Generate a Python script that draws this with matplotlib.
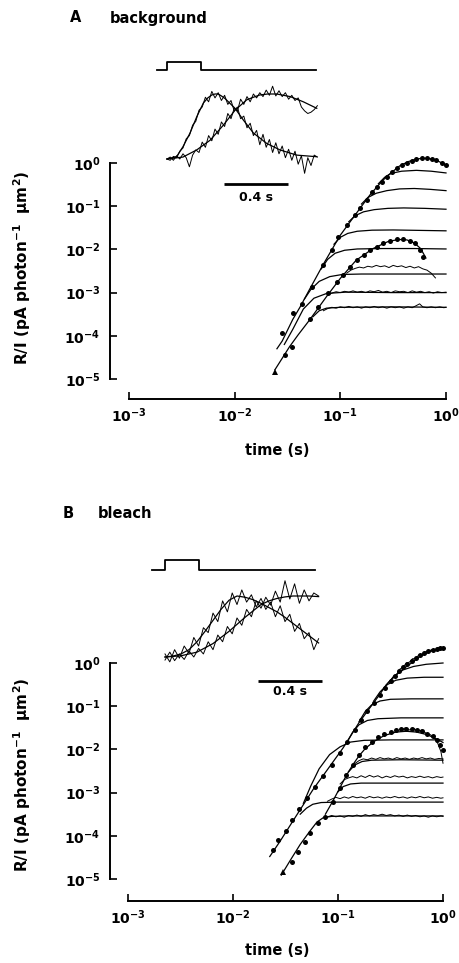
import numpy as np
import matplotlib
matplotlib.use("Agg")
import matplotlib.pyplot as plt
from matplotlib.ticker import FixedLocator, FixedFormatter, NullLocator

W, H, DPI = 460, 963, 100
PT = 72 / DPI  # points per pixel

plt.rcParams["font.family"] = ["DejaVu Sans"]
plt.rcParams["mathtext.fontset"] = "dejavusans"

# ---------------- main panels: (log10 time [s], log10 R/I) ----------------
X_TICKS = [1e-3, 1e-2, 1e-1, 1e0]
X_LABELS = [r"$\mathbf{10^{-3}}$", r"$\mathbf{10^{-2}}$", r"$\mathbf{10^{-1}}$", r"$\mathbf{10^{0}}$"]
Y_TICKS = [1e-5, 1e-4, 1e-3, 1e-2, 1e-1, 1e0]
Y_LABELS = [r"$\mathbf{10^{-5}}$", r"$\mathbf{10^{-4}}$", r"$\mathbf{10^{-3}}$",
            r"$\mathbf{10^{-2}}$", r"$\mathbf{10^{-1}}$", r"$\mathbf{10^{0}}$"]

# panel A (background)
A_env_up = [(-1.60, -4.30), (-1.55, -4.12), (-1.51, -3.92), (-1.45, -3.62), (-1.38, -3.33),
            (-1.29, -2.92), (-1.16, -2.34), (-1.00, -1.67), (-0.85, -1.17), (-0.72, -0.74),
            (-0.62, -0.46), (-0.56, -0.31), (-0.50, -0.19), (-0.44, -0.07), (-0.36, 0.03),
            (-0.28, 0.09), (-0.22, 0.11), (-0.15, 0.10), (-0.08, 0.05), (0.00, -0.05)]
A_dots_up = [(-1.555, -3.94), (-1.446, -3.48), (-1.366, -3.26), (-1.272, -2.86), (-1.162, -2.36),
             (-1.082, -2.01), (-1.02, -1.72), (-0.94, -1.44), (-0.862, -1.20), (-0.815, -1.05),
             (-0.75, -0.86), (-0.70, -0.66), (-0.657, -0.55), (-0.61, -0.43), (-0.562, -0.32),
             (-0.515, -0.20), (-0.467, -0.12), (-0.42, -0.05), (-0.373, 0.01), (-0.325, 0.05),
             (-0.28, 0.085), (-0.23, 0.11), (-0.18, 0.11), (-0.136, 0.09), (-0.09, 0.07),
             (-0.04, 0.01), (0.0, -0.05)]
A_c1 = [(-0.64, -0.48), (-0.58, -0.33), (-0.52, -0.24), (-0.42, -0.19), (-0.28, -0.17),
        (-0.14, -0.19), (0.0, -0.23)]
A_c2 = [(-0.80, -0.95), (-0.74, -0.80), (-0.66, -0.70), (-0.56, -0.64), (-0.44, -0.60),
        (-0.30, -0.59), (-0.15, -0.61), (0.0, -0.64)]
A_c3 = [(-0.92, -1.36), (-0.86, -1.22), (-0.78, -1.13), (-0.68, -1.08), (-0.55, -1.05),
        (-0.40, -1.04), (-0.20, -1.05), (0.0, -1.07)]
A_c4 = [(-1.06, -1.88), (-1.00, -1.72), (-0.93, -1.63), (-0.84, -1.58), (-0.70, -1.555),
        (-0.50, -1.55), (-0.25, -1.56), (0.0, -1.57)]
A_c5 = [(-1.18, -2.45), (-1.12, -2.23), (-1.05, -2.09), (-0.96, -2.02), (-0.84, -1.99),
        (-0.60, -1.98), (-0.30, -1.98), (0.0, -1.99)]
A_c6 = [(-1.34, -3.15), (-1.28, -2.93), (-1.20, -2.74), (-1.10, -2.63), (-0.98, -2.58),
        (-0.80, -2.57), (-0.40, -2.57), (0.0, -2.57)]
A_c7 = [(-1.53, -4.20), (-1.45, -3.85), (-1.35, -3.38), (-1.25, -3.13), (-1.13, -3.02),
        (-0.95, -2.99), (-0.50, -3.00), (0.0, -3.00)]
A_c8 = [(-1.26, -3.56), (-1.20, -3.42), (-1.13, -3.36), (-1.00, -3.34), (-0.50, -3.33),
        (0.0, -3.34)]
A_env_lo = [(-1.62, -4.79), (-1.55, -4.52), (-1.48, -4.25), (-1.40, -3.98), (-1.29, -3.63),
            (-1.13, -3.09), (-1.00, -2.67), (-0.85, -2.25), (-0.69, -1.98), (-0.55, -1.82),
            (-0.45, -1.77), (-0.37, -1.78), (-0.30, -1.85), (-0.24, -1.98), (-0.19, -2.20)]
A_dots_lo = [(-1.524, -4.44), (-1.46, -4.25), (-1.288, -3.62), (-1.209, -3.33), (-1.115, -3.02),
             (-1.035, -2.75), (-0.972, -2.59), (-0.909, -2.40), (-0.846, -2.25), (-0.78, -2.13),
             (-0.72, -2.01), (-0.657, -1.94), (-0.594, -1.86), (-0.53, -1.80), (-0.467, -1.77),
             (-0.405, -1.77), (-0.342, -1.80), (-0.294, -1.86), (-0.247, -2.01), (-0.216, -2.17)]
A_tri = [(-1.62, -4.84)]
A_n6 = [(-0.94, -2.55), (-0.90, -2.48), (-0.86, -2.44), (-0.82, -2.41), (-0.78, -2.43),
        (-0.74, -2.39), (-0.70, -2.41), (-0.66, -2.37), (-0.62, -2.40), (-0.58, -2.38),
        (-0.54, -2.42), (-0.50, -2.37), (-0.46, -2.40), (-0.42, -2.38), (-0.38, -2.42),
        (-0.34, -2.39), (-0.30, -2.43), (-0.26, -2.40), (-0.22, -2.45), (-0.18, -2.48),
        (-0.14, -2.55), (-0.10, -2.66)]
A_n7 = [(-1.12, -3.06), (-1.08, -3.01), (-1.04, -2.98), (-1.00, -3.00), (-0.96, -2.97),
        (-0.92, -2.99), (-0.88, -2.96), (-0.84, -2.99), (-0.80, -2.97), (-0.76, -3.00),
        (-0.72, -2.96), (-0.68, -2.98), (-0.64, -2.95), (-0.60, -2.99), (-0.56, -2.97),
        (-0.52, -3.00), (-0.48, -2.96), (-0.44, -2.98), (-0.40, -2.97), (-0.36, -3.00),
        (-0.32, -2.96), (-0.28, -2.99), (-0.24, -2.97), (-0.20, -3.00), (-0.16, -2.98),
        (-0.12, -3.01), (-0.08, -2.98), (-0.04, -3.00), (0.00, -2.99)]
A_n8 = [(-1.16, -3.42), (-1.12, -3.37), (-1.08, -3.34), (-1.04, -3.36), (-1.00, -3.33),
        (-0.96, -3.35), (-0.92, -3.32), (-0.88, -3.35), (-0.84, -3.33), (-0.80, -3.36),
        (-0.76, -3.33), (-0.72, -3.35), (-0.68, -3.32), (-0.64, -3.35), (-0.60, -3.33),
        (-0.56, -3.36), (-0.52, -3.33), (-0.48, -3.35), (-0.44, -3.33), (-0.40, -3.36),
        (-0.36, -3.33), (-0.32, -3.35), (-0.28, -3.30), (-0.25, -3.26), (-0.22, -3.33),
        (-0.18, -3.35), (-0.14, -3.33), (-0.10, -3.35), (-0.06, -3.33), (-0.02, -3.35),
        (0.00, -3.34)]

# panel B (bleach)
B_env_up = [(-1.65, -4.48), (-1.55, -4.12), (-1.43, -3.66), (-1.33, -3.28), (-1.23, -2.90),
            (-1.11, -2.50), (-0.95, -1.96), (-0.80, -1.38), (-0.70, -1.05), (-0.60, -0.72),
            (-0.54, -0.50), (-0.45, -0.28), (-0.38, -0.14), (-0.30, 0.00), (-0.22, 0.15),
            (-0.12, 0.27), (0.00, 0.34)]
B_dots_up = [(-1.62, -4.33), (-1.57, -4.10), (-1.50, -3.90), (-1.44, -3.63), (-1.37, -3.38),
             (-1.30, -3.12), (-1.22, -2.88), (-1.14, -2.62), (-1.06, -2.36), (-0.98, -2.08),
             (-0.91, -1.82), (-0.84, -1.55), (-0.78, -1.33), (-0.72, -1.12), (-0.66, -0.92),
             (-0.60, -0.75), (-0.55, -0.58), (-0.50, -0.42), (-0.46, -0.30), (-0.42, -0.18),
             (-0.38, -0.10), (-0.34, -0.02), (-0.30, 0.05), (-0.26, 0.12), (-0.22, 0.18),
             (-0.18, 0.22), (-0.14, 0.27), (-0.10, 0.30), (-0.06, 0.33), (-0.03, 0.34),
             (0.00, 0.35)]
B_n_up = [(-0.50, -0.40), (-0.47, -0.30), (-0.44, -0.26), (-0.41, -0.14), (-0.38, -0.10),
          (-0.35, 0.00), (-0.32, 0.02), (-0.29, 0.10), (-0.26, 0.10), (-0.23, 0.19),
          (-0.20, 0.18), (-0.17, 0.26), (-0.14, 0.25), (-0.11, 0.31), (-0.08, 0.29),
          (-0.05, 0.36), (-0.02, 0.32), (0.00, 0.35)]
B_c1 = [(-0.52, -0.45), (-0.45, -0.28), (-0.38, -0.16), (-0.28, -0.08), (-0.16, -0.03), (0.0, 0.0)]
B_c2 = [(-0.66, -0.88), (-0.60, -0.67), (-0.53, -0.50), (-0.45, -0.40), (-0.34, -0.35),
        (-0.18, -0.33), (0.0, -0.33)]
B_c3 = [(-0.80, -1.36), (-0.74, -1.12), (-0.68, -0.97), (-0.60, -0.88), (-0.50, -0.84),
        (-0.30, -0.83), (0.0, -0.83)]
B_c4 = [(-0.92, -1.86), (-0.86, -1.60), (-0.80, -1.43), (-0.72, -1.33), (-0.62, -1.29),
        (-0.40, -1.27), (0.0, -1.27)]
B_c5 = [(-1.33, -3.25), (-1.26, -2.85), (-1.18, -2.45), (-1.08, -2.12), (-0.98, -1.94),
        (-0.88, -1.83), (-0.75, -1.79), (-0.50, -1.78), (0.0, -1.78)]
B_env_lo = [(-1.12, -3.50), (-1.05, -3.20), (-0.98, -2.88), (-0.92, -2.60), (-0.86, -2.36),
            (-0.80, -2.15), (-0.74, -1.98), (-0.66, -1.82), (-0.56, -1.68), (-0.45, -1.60),
            (-0.35, -1.58), (-0.25, -1.60), (-0.15, -1.66), (-0.06, -1.76), (0.0, -1.84)]
B_dots_lo = [(-1.44, -4.60), (-1.38, -4.37), (-1.31, -4.14), (-1.27, -3.94), (-1.19, -3.71),
             (-1.12, -3.56), (-1.05, -3.22), (-0.98, -2.90), (-0.92, -2.60), (-0.86, -2.35),
             (-0.80, -2.12), (-0.74, -1.95), (-0.68, -1.82), (-0.62, -1.72), (-0.56, -1.64),
             (-0.50, -1.60), (-0.45, -1.56), (-0.40, -1.53), (-0.35, -1.52), (-0.30, -1.53),
             (-0.25, -1.55), (-0.20, -1.58), (-0.15, -1.64), (-0.10, -1.70), (-0.06, -1.78),
             (-0.03, -1.90), (0.00, -2.02)]
B_n_lo = [(-0.40, -1.56), (-0.36, -1.50), (-0.32, -1.55), (-0.28, -1.51), (-0.24, -1.58),
          (-0.20, -1.55), (-0.16, -1.63), (-0.12, -1.66), (-0.08, -1.75), (-0.05, -1.86),
          (-0.02, -2.05), (0.00, -2.32)]
B_tri = [(-1.52, -4.83)]
B_L1 = [(-0.90, -2.52), (-0.84, -2.36), (-0.77, -2.28), (-0.68, -2.25), (-0.40, -2.24), (0.0, -2.25)]
B_L1n = [(-0.84, -2.33), (-0.80, -2.26), (-0.76, -2.22), (-0.72, -2.24), (-0.68, -2.20),
         (-0.64, -2.23), (-0.60, -2.19), (-0.56, -2.22), (-0.52, -2.20), (-0.48, -2.23),
         (-0.44, -2.19), (-0.40, -2.22), (-0.36, -2.20), (-0.32, -2.23), (-0.28, -2.20),
         (-0.24, -2.22), (-0.20, -2.19), (-0.16, -2.22), (-0.12, -2.20), (-0.08, -2.23),
         (-0.04, -2.21), (0.00, -2.22)]
B_L2 = [(-1.00, -2.98), (-0.95, -2.86), (-0.88, -2.80), (-0.78, -2.78), (0.0, -2.78)]
B_L2n = [(-0.98, -2.80), (-0.94, -2.70), (-0.90, -2.66), (-0.86, -2.63), (-0.82, -2.66),
         (-0.78, -2.61), (-0.74, -2.65), (-0.70, -2.60), (-0.66, -2.64), (-0.62, -2.61),
         (-0.58, -2.66), (-0.54, -2.62), (-0.50, -2.65), (-0.46, -2.61), (-0.42, -2.64),
         (-0.38, -2.62), (-0.34, -2.66), (-0.30, -2.63), (-0.26, -2.65), (-0.22, -2.62),
         (-0.18, -2.65), (-0.14, -2.63), (-0.10, -2.66), (-0.06, -2.63), (-0.02, -2.65),
         (0.00, -2.64)]
B_L3 = [(-1.36, -3.50), (-1.30, -3.36), (-1.24, -3.27), (-1.16, -3.23), (-1.00, -3.22),
        (-0.50, -3.22), (0.0, -3.22)]
B_L3n = [(-1.10, -3.20), (-1.06, -3.15), (-1.02, -3.11), (-0.98, -3.14), (-0.94, -3.10),
         (-0.90, -3.13), (-0.86, -3.09), (-0.82, -3.12), (-0.78, -3.10), (-0.74, -3.13),
         (-0.70, -3.09), (-0.66, -3.12), (-0.62, -3.10), (-0.58, -3.13), (-0.54, -3.10),
         (-0.50, -3.12), (-0.46, -3.09), (-0.42, -3.12), (-0.38, -3.10), (-0.34, -3.13),
         (-0.30, -3.10), (-0.26, -3.12), (-0.22, -3.09), (-0.18, -3.12), (-0.14, -3.10),
         (-0.10, -3.13), (-0.06, -3.11), (-0.02, -3.13), (0.00, -3.12)]
B_L4 = [(-1.54, -4.91), (-1.45, -4.55), (-1.36, -4.20), (-1.27, -3.90), (-1.20, -3.68),
        (-1.14, -3.58), (-1.06, -3.55), (-0.90, -3.54), (0.0, -3.54)]
B_L4n = [(-1.10, -3.56), (-1.06, -3.53), (-1.02, -3.56), (-0.98, -3.54), (-0.94, -3.57),
         (-0.90, -3.53), (-0.86, -3.55), (-0.82, -3.52), (-0.78, -3.55), (-0.74, -3.51),
         (-0.70, -3.54), (-0.66, -3.51), (-0.62, -3.53), (-0.58, -3.50), (-0.54, -3.53),
         (-0.50, -3.51), (-0.46, -3.54), (-0.42, -3.52), (-0.38, -3.55), (-0.34, -3.52),
         (-0.30, -3.55), (-0.26, -3.53), (-0.22, -3.56), (-0.18, -3.54), (-0.14, -3.57),
         (-0.10, -3.54), (-0.06, -3.56), (-0.02, -3.54), (0.00, -3.55)]

# ---------------- insets: time [s] after light onset, normalised response ----------------
A_stim_t = [-0.06, 0.0, 0.0, 0.21, 0.21, 0.93]
A_stim_a = [1.37, 1.37, 1.49, 1.49, 1.37, 1.37]
A_fast_fit = [(0.0, 0.0), (0.06, 0.035), (0.10, 0.19), (0.144, 0.40), (0.186, 0.65), (0.227, 0.86),
              (0.255, 0.94), (0.28, 0.985), (0.30, 1.0), (0.32, 1.0), (0.34, 0.97), (0.363, 0.93),
              (0.425, 0.78), (0.477, 0.60), (0.54, 0.40), (0.623, 0.24), (0.706, 0.14),
              (0.81, 0.06), (0.936, 0.035)]
A_slow_fit = [(0.0, 0.0), (0.10, 0.03), (0.186, 0.14), (0.27, 0.29), (0.352, 0.52), (0.425, 0.75),
              (0.498, 0.91), (0.54, 0.95), (0.58, 0.985), (0.63, 1.0), (0.686, 1.0), (0.77, 0.96),
              (0.852, 0.88), (0.936, 0.78)]
A_fast_noisy = [0.00, -0.02, 0.04, 0.02, 0.12, 0.17, 0.31, 0.36, 0.52, 0.58, 0.75, 0.80, 0.95, 0.88,
                1.04, 0.94, 1.02, 0.90, 0.98, 0.84, 0.90, 0.74, 0.80, 0.62, 0.66, 0.48, 0.55, 0.36,
                0.44, 0.22, 0.38, 0.18, 0.30, 0.10, 0.25, 0.08, 0.20, 0.02, 0.15, -0.02, 0.12,
                -0.08, 0.05, -0.22, 0.02, -0.10, 0.06, 0.03]
A_slow_noisy = [0.00, 0.03, -0.02, 0.05, 0.00, 0.08, 0.02, -0.12, 0.06, 0.14, 0.10, 0.26, 0.18,
                0.36, 0.28, 0.46, 0.38, 0.57, 0.50, 0.70, 0.62, 0.78, 0.74, 0.92, 0.84, 0.96,
                0.88, 1.00, 0.94, 1.02, 0.96, 1.06, 0.98, 1.12, 0.97, 1.05, 0.96, 1.02, 0.92,
                0.98, 0.90, 0.94, 0.80, 0.74, 0.70, 0.72, 0.76, 0.82]
A_noisy_t = [0.00, 0.02, 0.04, 0.06, 0.08, 0.10, 0.12, 0.14, 0.16, 0.18, 0.20, 0.22, 0.24, 0.26,
             0.28, 0.30, 0.32, 0.34, 0.36, 0.38, 0.40, 0.42, 0.44, 0.46, 0.48, 0.50, 0.52, 0.54,
             0.56, 0.58, 0.60, 0.62, 0.64, 0.66, 0.68, 0.70, 0.72, 0.74, 0.76, 0.78, 0.80, 0.82,
             0.84, 0.86, 0.88, 0.90, 0.92, 0.94]

B_stim_t = [-0.08, 0.0, 0.0, 0.21, 0.21, 0.94]
B_stim_a = [1.43, 1.43, 1.59, 1.59, 1.43, 1.43]
B_fast_fit = [(0.0, 0.0), (0.05, 0.015), (0.10, 0.05), (0.15, 0.12), (0.20, 0.25), (0.25, 0.42),
              (0.30, 0.60), (0.35, 0.78), (0.40, 0.93), (0.45, 1.0), (0.50, 0.98), (0.55, 0.94),
              (0.60, 0.88), (0.65, 0.81), (0.70, 0.74), (0.75, 0.65), (0.80, 0.55), (0.85, 0.45),
              (0.90, 0.35), (0.96, 0.23)]
B_slow_fit = [(0.0, 0.0), (0.10, 0.02), (0.20, 0.08), (0.30, 0.22), (0.40, 0.42), (0.50, 0.65),
              (0.60, 0.86), (0.65, 0.92), (0.70, 0.96), (0.75, 0.985), (0.80, 1.0), (0.90, 1.0),
              (0.96, 0.99)]
B_noisy_t = [0.00, 0.03, 0.06, 0.09, 0.12, 0.15, 0.18, 0.21, 0.24, 0.27, 0.30, 0.33, 0.36, 0.39,
             0.42, 0.45, 0.48, 0.51, 0.54, 0.57, 0.60, 0.63, 0.66, 0.69, 0.72, 0.75, 0.78, 0.81,
             0.84, 0.87, 0.90, 0.93, 0.96]
B_fast_noisy = [0.05, -0.08, 0.12, -0.02, 0.18, 0.06, 0.32, 0.18, 0.48, 0.40, 0.72, 0.58, 0.92,
                0.74, 1.05, 0.86, 1.10, 0.90, 1.02, 0.82, 0.96, 0.78, 0.90, 0.66, 0.84, 0.58,
                0.70, 0.42, 0.55, 0.30, 0.40, 0.12, 0.30]
B_slow_noisy = [-0.05, 0.08, -0.06, 0.05, -0.04, 0.10, 0.00, 0.14, 0.05, 0.25, 0.12, 0.36, 0.25,
                0.50, 0.38, 0.64, 0.52, 0.78, 0.66, 0.92, 0.80, 0.98, 0.85, 1.08, 0.90, 1.25,
                0.95, 1.20, 0.88, 1.10, 0.92, 1.05, 1.00]

fig = plt.figure(figsize=(W / DPI, H / DPI), dpi=DPI)


def px_axes(left, top, right, bottom):
    return fig.add_axes([left / W, 1 - bottom / H, (right - left) / W, (bottom - top) / H])


def line(ax, pts, lw=0.9):
    t, r = np.array(pts).T
    ax.plot(10 ** t, 10 ** r, color="k", lw=lw, clip_on=False, solid_joinstyle="round")


def marks(ax, pts, marker="o", ms=3.6):
    t, r = np.array(pts).T
    ax.plot(10 ** t, 10 ** r, marker, color="k", ms=ms, mew=0, clip_on=False)


def main_panel(box, off_left, off_bottom):
    ax = px_axes(*box)
    ax.set_xscale("log")
    ax.set_yscale("log")
    ax.set_xlim(1e-3, 1)
    ax.set_ylim(1e-5, 1)
    ax.patch.set_visible(False)
    for s in ("top", "right"):
        ax.spines[s].set_visible(False)
    ax.spines["left"].set_position(("outward", off_left * PT))
    ax.spines["bottom"].set_position(("outward", off_bottom * PT))
    for s in ("left", "bottom"):
        ax.spines[s].set_linewidth(1.4)
    ax.xaxis.set_major_locator(FixedLocator(X_TICKS))
    ax.xaxis.set_major_formatter(FixedFormatter(X_LABELS))
    ax.yaxis.set_major_locator(FixedLocator(Y_TICKS))
    ax.yaxis.set_major_formatter(FixedFormatter(Y_LABELS))
    ax.xaxis.set_minor_locator(NullLocator())
    ax.yaxis.set_minor_locator(NullLocator())
    ax.tick_params(direction="in", length=5, width=1.2, labelsize=10)
    ax.tick_params(axis="x", pad=5)
    ax.tick_params(axis="y", pad=7)
    return ax


def inset(box, t0_px, base_px, px_per_s, px_per_unit):
    left, top, right, bottom = box
    ax = px_axes(*box)
    ax.set_xlim((left - t0_px) / px_per_s, (right - t0_px) / px_per_s)
    ax.set_ylim((base_px - bottom) / px_per_unit, (base_px - top) / px_per_unit)
    ax.axis("off")
    return ax


def draw_inset(ax, stim_t, stim_a, fits, noisy_t, noisies, bar, bar_y, lab_y):
    ax.plot(stim_t, stim_a, color="k", lw=1.3)
    for pts in fits:
        t, a = np.array(pts).T
        ax.plot(t, a, color="k", lw=0.9)
    for vals in noisies:
        ax.plot(noisy_t, vals, color="k", lw=0.7)
    ax.plot(bar, [bar_y, bar_y], color="k", lw=2.0, solid_capstyle="butt")
    ax.text(sum(bar) / 2, lab_y, "0.4 s", ha="center", va="center", fontsize=9,
            fontweight="bold")


# ---------- panel A ----------
axA = main_panel((129, 163, 446, 379), 19, 20)
for c in (A_env_up, A_c1, A_c2, A_c3, A_c4, A_c5, A_c6, A_c7, A_c8, A_env_lo):
    line(axA, c)
for c in (A_n6, A_n7, A_n8):
    line(axA, c, lw=0.7)
marks(axA, A_dots_up)
marks(axA, A_dots_lo)
marks(axA, A_tri, marker="^", ms=4)

insA = inset((150, 55, 330, 205), 167, 159, 160, 65)
draw_inset(insA, A_stim_t, A_stim_a, (A_fast_fit, A_slow_fit), A_noisy_t,
           (A_fast_noisy, A_slow_noisy), (0.356, 0.756), -0.385, -0.585)

# ---------- panel B ----------
axB = main_panel((128, 663, 443, 879), 18, 22)
for c in (B_env_up, B_c1, B_c2, B_c3, B_c4, B_c5, B_env_lo, B_L1, B_L2, B_L3, B_L4):
    line(axB, c)
for c in (B_n_up, B_n_lo, B_L1n, B_L2n, B_L3n, B_L4n):
    line(axB, c, lw=0.7)
marks(axB, B_dots_up)
marks(axB, B_dots_lo)
marks(axB, B_tri, marker="^", ms=4)

insB = inset((145, 550, 330, 705), 165, 657, 160, 61)
draw_inset(insB, B_stim_t, B_stim_a, (B_fast_fit, B_slow_fit), B_noisy_t,
           (B_fast_noisy, B_slow_noisy), (0.581, 0.981), -0.39, -0.57)

# ---------- labels ----------
ylab = "R/I (pA photon$^{\\mathbf{-1}}$  \u03bcm$^{\\mathbf{2}}$)"
for yc in (268, 775):
    fig.text(22 / W, 1 - yc / H, ylab, rotation=90, ha="center", va="center",
             fontsize=11, fontweight="bold")
for yc in (450, 950):
    fig.text(277 / W, 1 - yc / H, "time (s)", ha="center", va="center",
             fontsize=10.5, fontweight="bold")
fig.text(70 / W, 1 - 18 / H, "A", ha="left", va="center", fontsize=10.5, fontweight="bold")
fig.text(110 / W, 1 - 18 / H, "background", ha="left", va="center", fontsize=10.5,
         fontweight="bold")
fig.text(63 / W, 1 - 513 / H, "B", ha="left", va="center", fontsize=10.5, fontweight="bold")
fig.text(98 / W, 1 - 513 / H, "bleach", ha="left", va="center", fontsize=10.5,
         fontweight="bold")

fig.savefig("out.png", dpi=DPI)
